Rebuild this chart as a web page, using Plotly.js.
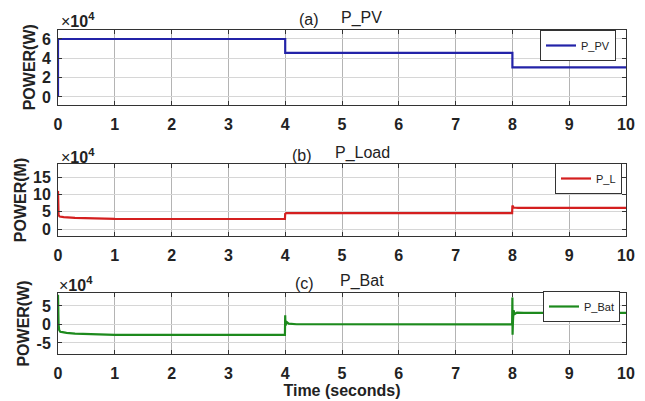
<!DOCTYPE html>
<html>
<head>
<meta charset="utf-8">
<script src="https://cdn.plot.ly/plotly-3.0.1.min.js"></script>
<style>html,body{margin:0;padding:0;background:#fff}#chart{width:645px;height:401px}</style>
</head>
<body>
<div id="chart"></div>
<script>
// ---- data ----
const timeTicks = [0,1,2,3,4,5,6,7,8,9,10];

const tPV = [0, 0, 4, 4, 8, 8, 10];
const pPV = [0, 60000, 60000, 45600, 45600, 30600, 30600];

const tLoad = [0, 0.005, 0.01, 0.03, 0.1, 0.3, 0.6, 1.0, 2.0, 3.995, 4.0, 4.02, 6.0, 7.995, 8.0, 8.02, 8.1, 10];
const pLoad = [110000, 60000, 40000, 36000, 34500, 32500, 30500, 29500, 29000, 29000, 44000, 46000, 46000, 46000, 68000, 62000, 61000, 61000];

const tBat = [0, 0.004, 0.01, 0.02, 0.04, 0.08, 0.15, 0.3, 0.6, 1.0, 2.0, 3.995, 4.0, 4.004, 4.008, 4.015, 4.03, 4.06, 4.2, 6.0, 7.995, 8.0, 8.003, 8.006, 8.01, 8.02, 8.04, 8.08, 8.2, 10];
const pBat = [80000, 20000, 0, -15000, -20000, -21000, -23000, -25000, -27000, -28000, -28500, -28500, 25000, -3000, 15000, 2000, 6000, 2000, 500, 300, 300, 73000, -28000, 50000, 10000, 38000, 28000, 32000, 31000, 31000];

const pvTickVals = [0, 20000, 40000, 60000];
const pvTickText = ['0', '2', '4', '6'];
const loadTickVals = [0, 50000, 100000, 150000];
const loadTickText = ['0', '5', '10', '15'];
const batTickVals = [-50000, 0, 50000];
const batTickText = ['-5', '0', '5'];

// ---- layout helpers ----
const FONT = 'Liberation Sans, Arial, sans-serif';
const L = 58, R = 626, T = 30, B = 354, W = 645, H = 401;
const px2x = px => (px - L) / (R - L);
const px2y = py => 1 - (py - T) / (B - T);

function xax(anchor, showTitle) {
  const a = {
    anchor: anchor, range: [0, 10], tickvals: timeTicks,
    ticks: 'inside', ticklen: 4, tickcolor: '#333', mirror: 'allticks',
    showline: true, linecolor: '#333', linewidth: 1,
    showgrid: true, gridcolor: '#b4b4b4', gridwidth: 1, zeroline: false,
    tickfont: {family: FONT, size: 16, color: '#222', weight: 'bold'},
    ticklabelstandoff: 5
  };
  if (showTitle) {
    a.title = {text: '<b>Time (seconds)</b>', font: {family: FONT, size: 16, color: '#222'}, standoff: 2};
  }
  return a;
}
function yax(anchor, domain, range, tv, tt, title) {
  return {
    anchor: anchor, domain: domain, range: range, tickvals: tv, ticktext: tt,
    ticks: 'inside', ticklen: 4, tickcolor: '#333', mirror: 'allticks',
    showline: true, linecolor: '#333', linewidth: 1,
    showgrid: true, gridcolor: '#d6d6d6', gridwidth: 1, zeroline: false,
    tickfont: {family: FONT, size: 16, color: '#222', weight: 'bold'},
    ticklabelstandoff: 3,
    title: {text: '<b>' + title + '</b>', font: {family: FONT, size: 16, color: '#222'}, standoff: 2}
  };
}

const traces = [
  {x: tPV, y: pPV, xaxis: 'x', yaxis: 'y', name: 'P_PV', mode: 'lines',
   line: {color: '#2323a8', width: 2.2}, legend: 'legend'},
  {x: tLoad, y: pLoad, xaxis: 'x2', yaxis: 'y2', name: 'P_L', mode: 'lines',
   line: {color: '#d41f1f', width: 2.2}, legend: 'legend2'},
  {x: tBat, y: pBat, xaxis: 'x3', yaxis: 'y3', name: 'P_Bat', mode: 'lines',
   line: {color: '#1d8a1d', width: 2.2}, legend: 'legend3'}
];

function leg(rightPx, topPx) {
  return {x: px2x(rightPx), xanchor: 'right', y: px2y(topPx), yanchor: 'top',
    bgcolor: '#fff', bordercolor: '#333', borderwidth: 1,
    font: {family: FONT, size: 11, color: '#222'}, tracegroupgap: 0, itemwidth: 30};
}

function ann(text, xpx, ypx, size, anchor) {
  return {text: text, xref: 'paper', yref: 'paper', x: px2x(xpx), y: px2y(ypx),
    xanchor: anchor || 'center', yanchor: 'middle', showarrow: false,
    font: {family: FONT, size: size, color: '#222'}};
}

const layout = {
  width: W, height: H,
  margin: {l: L, r: W - R, t: T, b: H - B, pad: 0},
  paper_bgcolor: '#fff', plot_bgcolor: '#fff',
  showlegend: true,
  xaxis: xax('y', false),
  xaxis2: xax('y2', false),
  xaxis3: xax('y3', true),
  yaxis: yax('x', [px2y(104.5), 1], [-7800, 69300], pvTickVals, pvTickText, 'POWER(W)'),
  yaxis2: yax('x2', [px2y(236), px2y(164)], [-20000, 187500], loadTickVals, loadTickText, 'POWER(M)'),
  yaxis3: yax('x3', [0, px2y(293)], [-80000, 85000], batTickVals, batTickText, 'POWER(W)'),
  legend: leg(616, 30),
  legend2: leg(622, 163),
  legend3: leg(620, 291),
  annotations: [
    ann('(a)', 309, 19, 16), ann('P_PV', 361, 18, 16),
    ann('(b)', 302, 155, 16), ann('P_Load', 362, 153, 16),
    ann('(c)', 304, 283, 16), ann('P_Bat', 362, 281, 16),
    ann('×<b>10<sup>4</sup></b>', 59, 20, 16, 'left'),
    ann('×<b>10<sup>4</sup></b>', 59, 156, 16, 'left'),
    ann('×<b>10<sup>4</sup></b>', 57, 284, 16, 'left')
  ]
};

Plotly.newPlot('chart', traces, layout, {staticPlot: true, displayModeBar: false});
</script>
</body>
</html>
